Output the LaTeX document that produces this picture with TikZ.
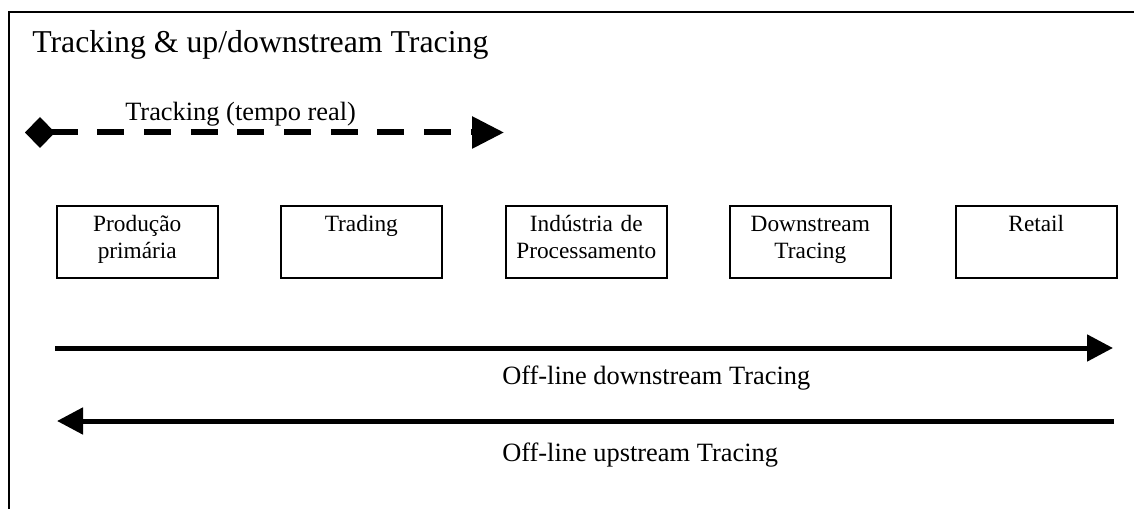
\documentclass[tikz,border=0pt]{standalone}
\usepackage{fontspec}
\setmainfont{Liberation Serif}
\usetikzlibrary{arrows.meta}

\begin{document}
\begin{tikzpicture}[x=0.75pt,y=0.75pt,yscale=-1,xscale=1,
  frameline/.style={line width=1.5pt},
  stagebox/.style={draw,line width=1.2pt,anchor=north west,inner sep=0pt,text width=120.75pt,align=center,text height=19pt,text depth=35pt,font=\fontsize{17.5}{20.6}\selectfont},
  titlelabel/.style={anchor=base west,inner sep=0pt,font=\fontsize{23.85}{28}\selectfont},
  flowlabel/.style={anchor=base west,inner sep=0pt,font=\fontsize{19.8}{23}\selectfont},
  flowarrow/.style={line width=3.75pt,-{Triangle[length=19.5pt,width=19.5pt]}},
  trackarrow/.style={line width=4.5pt,dash pattern=on 20.25pt off 14.75pt,{Diamond[length=22.5pt,width=23.25pt]}-{Triangle[length=24pt,width=23.25pt]}}]
                \useasboundingbox (0,0) rectangle (1134,509);
                
                %Frame (top and left sides only)
                \draw [frameline]    (9,509) -- (9,12.5) -- (1134,12.5) ;
                
                % Text Node
                \node [titlelabel] (title) at (32,53) {Tracking \& up/downstream Tracing};
                
                %Tracking arrow
                \coordinate (trkL) at (25,132.5);
                \coordinate (trkR) at (504,132.5);
                \draw [trackarrow]    (trkL) -- (trkR) ;
                % Text Node
                \node [flowlabel] (trklbl) at (125,120.5) {Tracking (tempo real)};
                
                %Stages
                \node [stagebox] (prod) at (56,205) {Produção\\primária};
                \node [stagebox] (trad) at (280,205) {Trading};
                \node [stagebox] (indu) at (505,205) {Indústria de\\Processamento};
                \node [stagebox] (dstr) at (729,205) {Downstream\\Tracing};
                \node [stagebox] (retl) at (955,205) {Retail};
                
                %Off-line downstream arrow
                \coordinate (dsL) at (55,348);
                \coordinate (dsR) at (1113,348);
                \draw [flowarrow]    (dsL) -- (dsR) ;
                % Text Node
                \node [flowlabel] (dslbl) at (502,384) {Off-line downstream Tracing};
                
                %Off-line upstream arrow
                \coordinate (usR) at (1114,421);
                \coordinate (usL) at (57,421);
                \draw [flowarrow]    (usR) -- (usL) ;
                % Text Node
                \node [flowlabel] (uslbl) at (502,461) {Off-line upstream Tracing};
\end{tikzpicture}
\end{document}
